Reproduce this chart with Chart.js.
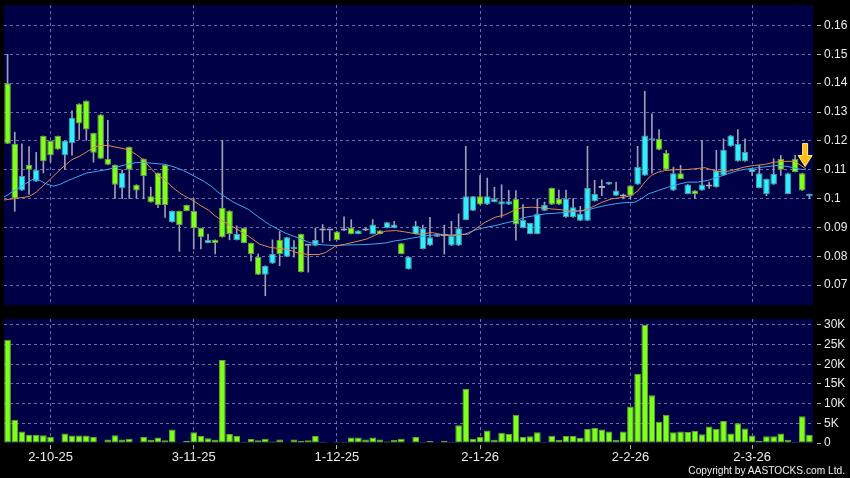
<!DOCTYPE html>
<html>
<head>
<meta charset="utf-8">
<script src="https://cdn.jsdelivr.net/npm/chart.js@4.4.1/dist/chart.umd.min.js"></script>
<style>
  html, body { margin: 0; padding: 0; background: #000; }
  #wrap { position: relative; width: 850px; height: 478px; background: #000; overflow: hidden; }
  #priceChart { position: absolute; left: 0; top: 0; }
  #volChart { position: absolute; left: 0; top: 310px; }
  #copy { position: absolute; right: 5px; top: 465px; line-height: 14px;
          font: 10.2px "Liberation Sans", Arial, sans-serif; color: #f0f0f0; }
</style>
</head>
<body>
<div id="wrap">
  <canvas id="priceChart" width="850" height="310"></canvas>
  <canvas id="volChart" width="850" height="168"></canvas>
  <div id="copy">Copyright by AASTOCKS.com Ltd.</div>
</div>
<script>
// x positions are trading-day indexes (0 = first bar)
const tickIdx = [6, 26, 46, 66, 87, 104];
const tickText = ["2-10-25", "3-11-25", "1-12-25", "2-1-26", "2-2-26", "2-3-26"];
const priceTicks = [0.07, 0.08, 0.09, 0.1, 0.11, 0.12, 0.13, 0.14, 0.15, 0.16];
const volTicks = [0, 5, 10, 15, 20, 25, 30];

const opens = [
  .140, .119, .1028, .1117, .1059, .1217, .120, .1217, .115, .1192,
  .1329, .1339, .1227, .1291, .1138, .1117, .1036, .1179, .1048, .1138,
  .1008, .1089, .1117, .0918, .0957, .0978, .0957, .0898, .0846, .0857,
  .0968, .0958, .0856, .0898, .0846, .0798, .0736, .0775, .0857, .0798,
  .0825, .0877, .0836, .0836, .0889, .0889, .0886, .0889, .0898, .0877,
  .0889, .0877, .0889, .0898, .0898, .0845, .0755, .0877, .0825, .0837,
  .0868, .087, .0837, .0837, .0926, .0958, .1008, .0979, .0988, .0979,
  .0979, .0999, .0898, .0877, .0877, .0958, .1037, .100, .0935, .0935,
  .0923, .0923, .0991, .1037, .1049, .101, .1007, .1045, .1049, .108,
  .1202, .1207, .1158, .1028, .1088, .1016, .1028, .1028, .1042, .1039,
  .108, .1181, .1129, .1129, .1092, .1037, .1016, .1049, .1138, .1016,
  .1138, .1088, .1008
];
const highs = [
  .150, .123, .119, .118, .116, .1217, .120, .1217, .120, .1304,
  .1329, .1339, .1227, .1291, .1271, .1117, .110, .1179, .1048, .1138,
  .1039, .1089, .1117, .0957, .0957, .0978, .100, .0898, .0877, .0857,
  .1202, .0958, .0906, .0898, .0846, .0808, .0767, .0857, .0886, .0866,
  .0854, .0877, .0836, .0898, .091, .0889, .0886, .0937, .0927, .0889,
  .0898, .0927, .0889, .0918, .0921, .0845, .0798, .0921, .0908, .0935,
  .0875, .0908, .0921, .0947, .1181, .1008, .108, .1071, .1039, .1048,
  .1028, .1028, .0979, .0915, .0999, .0988, .1037, .1029, .1029, .100,
  .0973, .1181, .1063, .1065, .1057, .1057, .1016, .1045, .1181, .1372,
  .1294, .1239, .1167, .1109, .1115, .1049, .1028, .1202, .1057, .1167,
  .1207, .1219, .1239, .1207, .1103, .1115, .1068, .1138, .115, .1088,
  .115, .1088, .1016
];
const lows = [
  .119, .0956, .1028, .1014, .1059, .1089, .1126, .117, .110, .115,
  .1205, .1202, .1126, .1138, .1117, .100, .100, .100, .100, .0999,
  .0987, .0968, .0935, .0918, .0817, .0957, .0825, .0825, .0846, .0808,
  .0866, .0857, .0856, .0846, .0784, .0736, .0663, .0775, .0767, .0798,
  .0797, .0745, .0745, .0836, .0848, .0854, .0856, .0889, .0877, .0877,
  .0889, .0877, .0877, .0898, .0898, .0808, .0755, .0877, .0825, .0837,
  .0868, .0807, .0837, .0837, .0926, .0958, .0979, .0979, .0988, .0935,
  .0979, .0856, .0898, .0877, .0877, .0958, .0979, .0979, .0935, .0935,
  .0923, .0923, .0991, .101, .1049, .101, .0999, .0999, .1049, .108,
  .1088, .1169, .110, .1028, .1068, .1016, .100, .1028, .1035, .1039,
  .108, .1181, .1129, .1129, .108, .1037, .101, .1049, .108, .1016,
  .1092, .1028, .100
];
const closes = [
  .119, .100, .1078, .110, .110, .1129, .115, .117, .120, .128,
  .126, .1239, .1159, .1138, .1117, .1048, .1089, .110, .1028, .1078,
  .0987, .0978, .0978, .0957, .0908, .0957, .0897, .0866, .0857, .0846,
  .0866, .0877, .0877, .0846, .0808, .0736, .0767, .0808, .0808, .0866,
  .0833, .0745, .0836, .0856, .0889, .0889, .0856, .0889, .0877, .0889,
  .0889, .091, .0877, .0918, .091, .0808, .0798, .0906, .0897, .0866,
  .0875, .087, .0871, .0897, .1008, .1008, .0979, .1008, .0999, .0991,
  .0991, .091, .0926, .0915, .0947, .0978, .0979, .0979, .100, .097,
  .0947, .1037, .1016, .1037, .1057, .1028, .1007, .101, .1109, .1219,
  .1207, .1169, .110, .1088, .1068, .1049, .1016, .1049, .1042, .1097,
  .1169, .1219, .119, .1161, .1103, .1088, .1068, .1086, .110, .1088,
  .1092, .1028, .1016
];
// volume in thousands of shares
const volumes = [
  26.2, 5.9, 2.9, 2.1, 2.1, 2.0, 1.6, 0.1, 2.4, 1.9,
  1.9, 1.9, 1.5, 0.1, 0.9, 2.0, 0.9, 1.1, 0.1, 1.5,
  0.8, 1.4, 0.7, 3.4, 0.2, 0.6, 2.7, 1.8, 1.2, 0.8,
  21.1, 2.3, 1.8, 0.3, 1.0, 0.7, 1.1, 0.4, 0.9, 0.1,
  0.9, 0.6, 0.7, 1.8, 0.3, 0, 0.3, 0.3, 1.4, 1.4,
  0.9, 1.4, 0.9, 0.4, 0.8, 1.1, 0.1, 1.5, 0.3, 0.5,
  0.1, 0.6, 0.3, 4.5, 13.7, 1.0, 1.6, 3.2, 0.8, 2.6,
  2.3, 7.2, 1.5, 1.7, 2.7, 0.25, 1.85, 0.75, 1.8, 1.8,
  1.35, 3.6, 3.8, 3.4, 2.9, 0.8, 2.9, 9.3, 17.5, 30,
  12.1, 5.4, 7.2, 2.7, 2.9, 2.8, 3.1, 2.2, 4.2, 3.6,
  5.6, 2.4, 5.0, 3.7, 1.9, 0.6, 1.7, 1.7, 2.4, 0.8,
  0.25, 6.8, 2.1
];
// moving averages: [index, price]
const maShort = [
  [-0.5, .0995], [1, .1], [3, .1007], [4, .1022], [5, .1045], [6, .1068], [7, .1092], [8, .1115], [9, .1135], [10, .1146],
  [11, .1161], [12, .1177], [13, .1184], [14, .1184], [15, .1179], [16, .1174], [17, .1168], [18, .1152], [19, .1134], [20, .1105],
  [21, .108], [22, .1065], [23, .104], [24, .102], [25, .1005], [26, .0992], [27, .0975], [28, .0961], [29, .094], [30, .0923],
  [31.5, .0902], [33.4, .0874], [35.2, .0842], [36.6, .0831], [37.9, .0827], [39.3, .0822], [40.7, .081], [42.1, .0806], [43.5, .0806], [44.4, .0813],
  [45.8, .0835], [47.2, .0842], [48.4, .0849], [50.2, .086], [51.4, .0874], [52.8, .0887], [54.2, .0889], [55.6, .0884], [57.4, .0876], [59.3, .0882],
  [60.7, .0875], [62.1, .0871], [63.5, .0875], [64.4, .0877], [65.3, .0894], [66.7, .0918], [68.1, .0935], [69.5, .0944], [70.9, .0961], [71.8, .0968],
  [73.2, .097], [74.6, .0968], [76, .0964], [77.4, .0961], [78.8, .0956], [80.2, .0958], [81.6, .097], [83, .0987], [84.4, .0999], [86.2, .1005],
  [87.1, .101], [88.1, .1028], [89, .1057], [89.9, .108], [90.9, .1092], [91.8, .1097], [93.2, .11], [94.5, .11], [95.9, .1103], [97.4, .1107],
  [98.3, .11], [99.2, .1095], [100.1, .1092], [101.1, .1097], [102, .1103], [102.9, .1109], [104.3, .1115], [105.7, .1118], [107.1, .1126], [108.5, .1129],
  [109.9, .1129], [110.8, .1115], [111.5, .1103]
];
const maLong = [
  [-0.5, .1005], [1.7, .1039], [3.6, .1068], [4.5, .1063], [5.4, .1051], [6.4, .1043], [7.3, .1049], [8.5, .1063], [9.6, .1074], [11, .1088],
  [12.4, .1094], [13.8, .11], [15.2, .1109], [16.6, .1118], [17.8, .1124], [18.9, .1126], [20.3, .1122], [21.9, .1119], [23.1, .1111], [24.6, .1097],
  [25.9, .108], [27.4, .106], [28.5, .1042], [29.4, .1022], [31.5, .0988], [33.6, .0963], [35.1, .0935], [36.6, .0909], [38.9, .0879], [40.7, .0863],
  [42.1, .0848], [43.5, .0841], [45.4, .0837], [47.2, .0839], [49.1, .084], [50.9, .0842], [52.8, .0846], [54.2, .0854], [55.2, .0857], [56.5, .0863],
  [58.4, .0871], [60.2, .0875], [62.1, .0874], [63.9, .0877], [65.3, .0891], [66.7, .09], [68.1, .0906], [69.5, .0915], [70.9, .0923], [72.3, .0935],
  [73.7, .0941], [75.1, .0947], [76.5, .0949], [77.9, .0952], [79.3, .0956], [80.7, .0958], [82.1, .0968], [83.5, .0976], [84.9, .0982], [86.2, .0986],
  [87.6, .0987], [88.5, .0999], [89.5, .1016], [90.9, .1028], [92.2, .1039], [93.6, .1049], [95, .1057], [96.4, .1057], [97.8, .1063], [99.2, .1074],
  [100.6, .1086], [102, .1097], [103.4, .1103], [104.8, .1107], [106.2, .1111], [107.6, .1115], [109, .1111], [110.4, .1103], [111.5, .11]
];
const arrowAt = [111.4, 0.1111];

Chart.defaults.font.family = '"Liberation Sans", Arial, sans-serif';
Chart.defaults.color = "#ececec";

const GRID = "rgba(125,125,190,0.85)";
const UP = "#30eefc", UP_EDGE = "#4c9aa2";
const DOWN = "#80ff1c", DOWN_EDGE = "#6b9a45";
const DOJI = "#a9a9bb";
const idx = opens.map((_, i) => i);

const bodyFill = idx.map(i => closes[i] > opens[i] ? UP : closes[i] < opens[i] ? DOWN : DOJI);
const bodyEdge = idx.map(i => closes[i] > opens[i] ? UP_EDGE : closes[i] < opens[i] ? DOWN_EDGE : DOJI);

const panelBg = {
    id: "panelBg",
    beforeDraw(chart) {
        const { ctx, chartArea: a } = chart;
        ctx.save();
        ctx.fillStyle = "#000046";
        ctx.fillRect(a.left, a.top, a.right - a.left, a.bottom - a.top);
        ctx.restore();
    },
};

const downArrow = {
    id: "downArrow",
    afterDatasetsDraw(chart) {
        const { ctx, scales } = chart;
        const x = scales.x.getPixelForValue(arrowAt[0]);
        const y = scales.y.getPixelForValue(arrowAt[1]);
        ctx.save();
        ctx.beginPath();
        ctx.moveTo(x - 2.5, y - 23);
        ctx.lineTo(x + 2.5, y - 23);
        ctx.lineTo(x + 2.5, y - 11);
        ctx.lineTo(x + 7, y - 11);
        ctx.lineTo(x, y);
        ctx.lineTo(x - 7, y - 11);
        ctx.lineTo(x - 2.5, y - 11);
        ctx.closePath();
        ctx.fillStyle = "#ffbe12";
        ctx.fill();
        ctx.strokeStyle = "#ffec9a";
        ctx.lineWidth = 1;
        ctx.stroke();
        ctx.restore();
    },
};

function noPad(scale) {
    scale.paddingTop = 0;
    scale.paddingBottom = 0;
    scale.paddingLeft = 0;
    scale.paddingRight = 0;
}

function xAxis(showLabels) {
    return {
        type: "linear",
        min: -0.5,
        max: 112.5,
        offset: false,
        afterBuildTicks: (s) => { s.ticks = tickIdx.map(v => ({ value: v })); },
        afterFit: (s) => { noPad(s); s.height = showLabels ? 35 : 0; },
        border: { display: false, dash: [3, 3] },
        grid: {
            offset: false,
            color: GRID,
            drawTicks: showLabels,
            tickLength: 6,
            tickColor: "#b4b4b4",
            tickBorderDash: [0, 2, 4, 0],
        },
        ticks: {
            display: showLabels,
            autoSkip: false,
            maxRotation: 0,
            padding: 1,
            font: { size: 13 },
            color: "#ececec",
            callback: (v) => tickText[tickIdx.indexOf(v)],
        },
    };
}

function yAxis(min, max, ticks, fmt) {
    return {
        position: "right",
        min: min,
        max: max,
        afterBuildTicks: (s) => { s.ticks = ticks.map(v => ({ value: v })); },
        afterFit: (s) => { noPad(s); s.width = 37; },
        border: { display: false, dash: [3, 3] },
        grid: {
            color: (c) => (c.tick && c.tick.value === 0 ? "rgba(0,0,0,0)" : GRID),
            tickLength: 8,
            tickColor: "#b4b4b4",
            tickBorderDash: [0, 4, 4, 0],
        },
        ticks: { padding: 3, font: { size: 12 }, color: "#ececec", callback: fmt },
    };
}

new Chart(document.getElementById("priceChart"), {
    type: "bar",
    data: {
        datasets: [
            {
                type: "line",
                data: maShort.map(([x, y]) => ({ x, y })),
                borderColor: "#e0884f",
                borderWidth: 1,
                pointRadius: 0,
                order: 0,
            },
            {
                type: "line",
                data: maLong.map(([x, y]) => ({ x, y })),
                borderColor: "#3ea8f0",
                borderWidth: 1,
                pointRadius: 0,
                order: 0,
            },
            {
                type: "bar",
                data: idx.map(i => ({ x: i, y: [opens[i], closes[i]] })),
                backgroundColor: bodyFill,
                borderColor: bodyEdge,
                borderWidth: 1,
                borderSkipped: false,
                grouped: false,
                categoryPercentage: 1,
                barPercentage: 0.92,
                minBarLength: 2,
                order: 1,
            },
            {
                type: "bar",
                data: idx.map(i => ({ x: i, y: [lows[i], highs[i]] })),
                backgroundColor: "#9e9eb2",
                borderWidth: 0,
                barThickness: 1,
                grouped: false,
                order: 2,
            },
        ],
    },
    options: {
        responsive: false,
        animation: false,
        devicePixelRatio: 1,
        events: [],
        layout: { padding: { left: 4, top: 5, right: 0, bottom: 5 } },
        plugins: { legend: { display: false }, tooltip: { enabled: false } },
        scales: {
            x: xAxis(false),
            y: yAxis(0.0631, 0.1671, priceTicks, (v) => String(+v.toFixed(2))),
        },
    },
    plugins: [panelBg, downArrow],
});

new Chart(document.getElementById("volChart"), {
    type: "bar",
    data: {
        datasets: [
            {
                data: idx.map(i => ({ x: i, y: volumes[i] })),
                backgroundColor: "#80ff1c",
                borderColor: "#5fa631",
                borderWidth: 1,
                borderSkipped: false,
                categoryPercentage: 1,
                barPercentage: 0.93,
            },
        ],
    },
    options: {
        responsive: false,
        animation: false,
        devicePixelRatio: 1,
        events: [],
        layout: { padding: { left: 4, top: 9, right: 0, bottom: 0 } },
        plugins: { legend: { display: false }, tooltip: { enabled: false } },
        scales: {
            x: xAxis(true),
            y: yAxis(0, 31.5, volTicks, (v) => (v === 0 ? "0" : v + "K")),
        },
    },
    plugins: [panelBg],
});
</script>
</body>
</html>
